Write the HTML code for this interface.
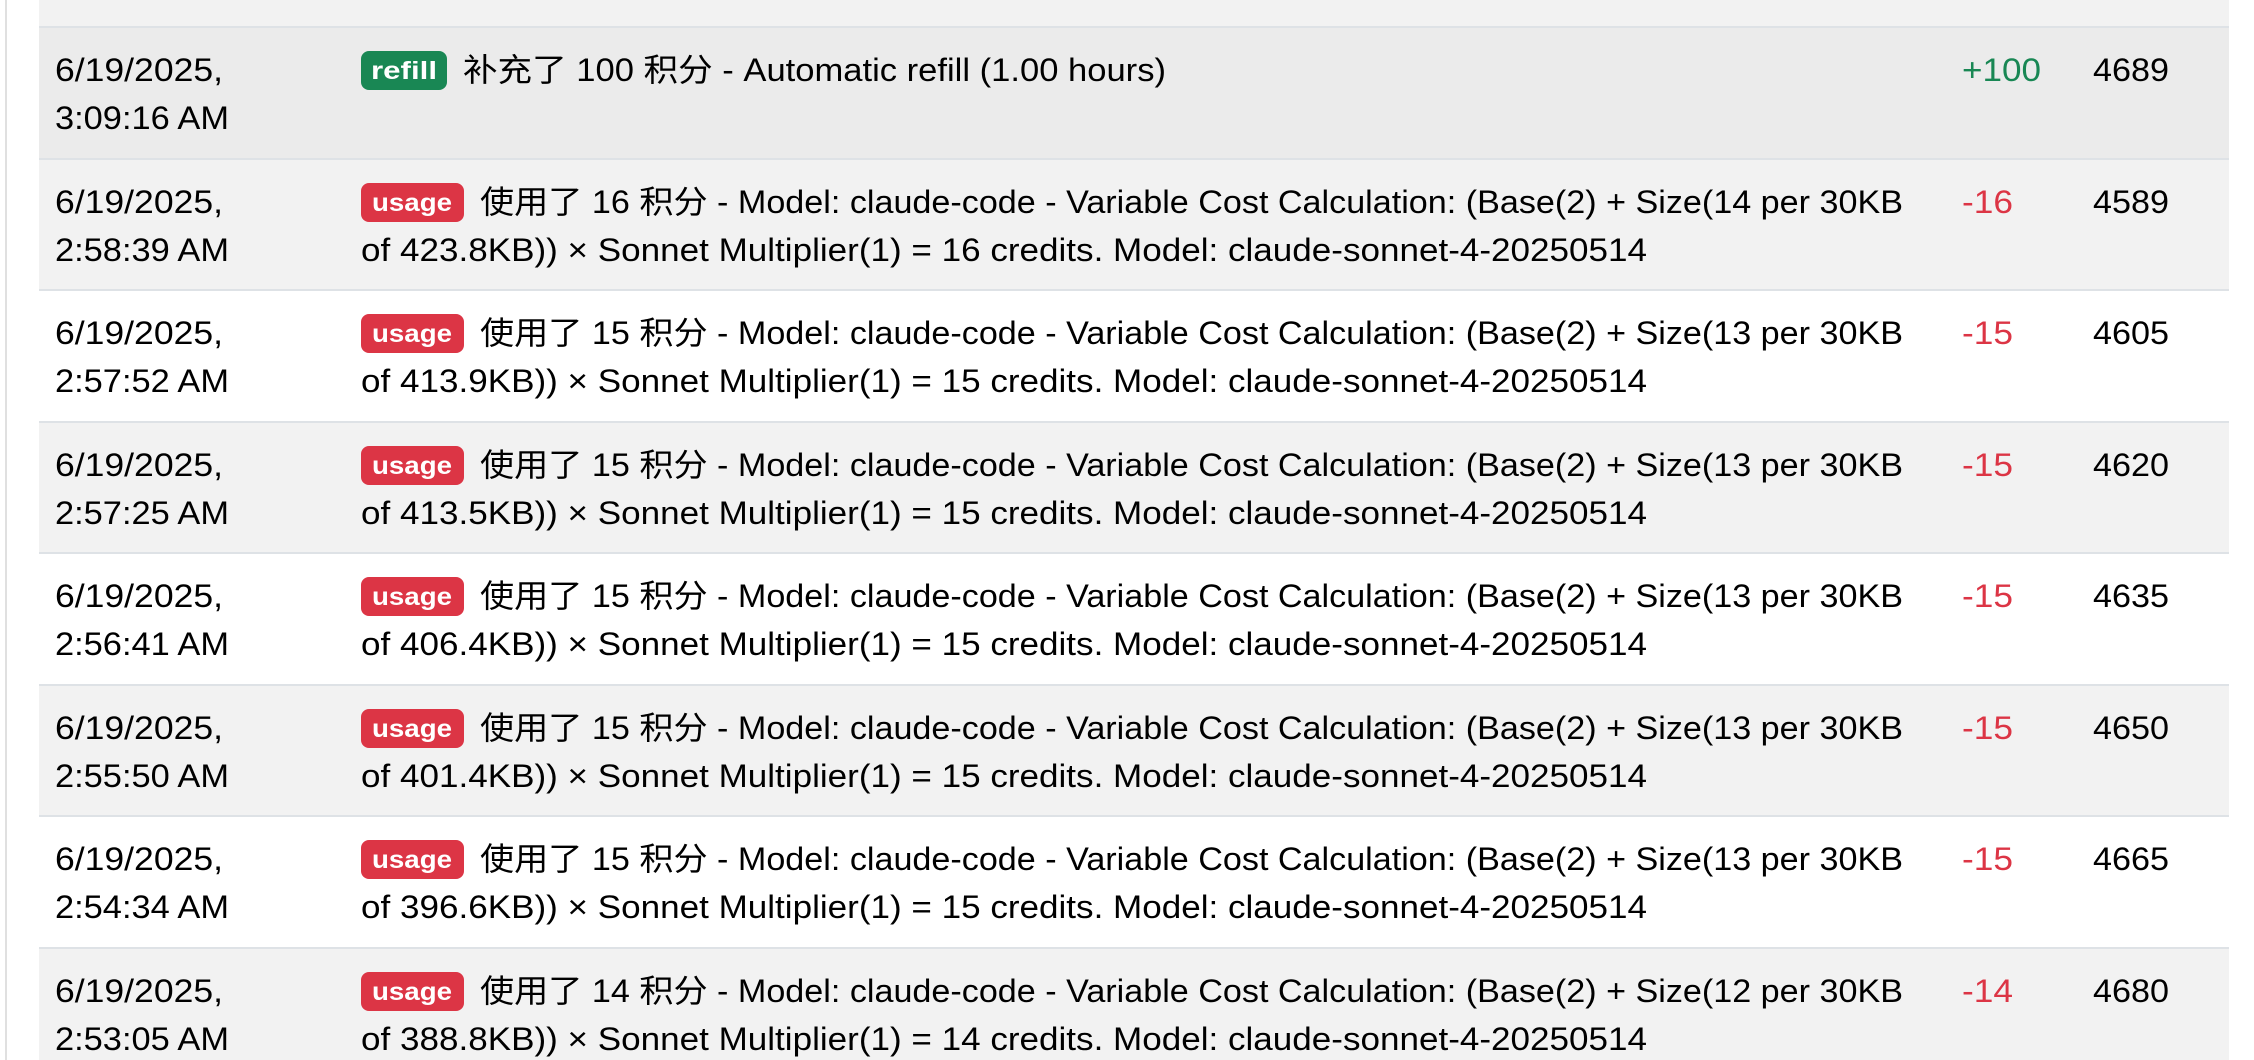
<!DOCTYPE html>
<html><head><meta charset="utf-8">
<style>
html,body{margin:0;padding:0;background:#fff;}
svg{display:block;}
text{font-family:"Liberation Sans","Noto Sans CJK SC",sans-serif;font-size:32px;fill:#000;}
.b{font-weight:bold;font-size:25px;fill:#fff;}
.pos{fill:#198754}.neg{fill:#dc3545}
</style></head><body>
<svg width="2254" height="1060" viewBox="0 0 2254 1060" xmlns="http://www.w3.org/2000/svg">
<defs>
<g id="base">
<rect x="39" y="0" width="2190" height="2" fill="#dee2e6"/>
</g>
</defs>
<rect x="0" y="0" width="2254" height="1060" fill="#fff"/>
<rect x="5" y="0" width="2" height="1060" fill="#e0e0e0"/>
<rect x="39" y="0" width="2190" height="26" fill="#f2f2f2"/>

<g transform="translate(0,26)">
<rect x="39" y="0" width="2190" height="132" fill="#ebebeb"/><use href="#base"/>
<text x="55" y="55" textLength="168" lengthAdjust="spacingAndGlyphs">6/19/2025,</text>
<text x="55" y="103" textLength="174" lengthAdjust="spacingAndGlyphs">3:09:16 AM</text>
<rect x="361" y="25" width="86" height="39" rx="8" fill="#198754"/><text class="b" x="404" y="53" text-anchor="middle" textLength="66" lengthAdjust="spacingAndGlyphs">refill</text>
<text x="463" y="55" textLength="703" lengthAdjust="spacingAndGlyphs">补充了 100 积分 - Automatic refill (1.00 hours)</text>
<text class="pos" x="1962" y="55" textLength="79" lengthAdjust="spacingAndGlyphs">+100</text>
<text x="2093" y="55" textLength="76" lengthAdjust="spacingAndGlyphs">4689</text>
</g>

<g transform="translate(0,158)">
<rect x="39" y="0" width="2190" height="131" fill="#f2f2f2"/><use href="#base"/>
<text x="55" y="55" textLength="168" lengthAdjust="spacingAndGlyphs">6/19/2025,</text>
<text x="55" y="103" textLength="174" lengthAdjust="spacingAndGlyphs">2:58:39 AM</text>
<rect x="361" y="25" width="103" height="39" rx="8" fill="#dc3545"/><text class="b" x="412" y="53" text-anchor="middle" textLength="80" lengthAdjust="spacingAndGlyphs">usage</text>
<text x="480" y="55" textLength="1423" lengthAdjust="spacingAndGlyphs">使用了 16 积分 - Model: claude-code - Variable Cost Calculation: (Base(2) + Size(14 per 30KB</text>
<text x="361" y="103" textLength="1286" lengthAdjust="spacingAndGlyphs">of 423.8KB)) × Sonnet Multiplier(1) = 16 credits. Model: claude-sonnet-4-20250514</text>
<text class="neg" x="1962" y="55" textLength="51" lengthAdjust="spacingAndGlyphs">-16</text>
<text x="2093" y="55" textLength="76" lengthAdjust="spacingAndGlyphs">4589</text>
</g>

<g transform="translate(0,289)">
<rect x="39" y="0" width="2190" height="132" fill="#ffffff"/><use href="#base"/>
<text x="55" y="55" textLength="168" lengthAdjust="spacingAndGlyphs">6/19/2025,</text>
<text x="55" y="103" textLength="174" lengthAdjust="spacingAndGlyphs">2:57:52 AM</text>
<rect x="361" y="25" width="103" height="39" rx="8" fill="#dc3545"/><text class="b" x="412" y="53" text-anchor="middle" textLength="80" lengthAdjust="spacingAndGlyphs">usage</text>
<text x="480" y="55" textLength="1423" lengthAdjust="spacingAndGlyphs">使用了 15 积分 - Model: claude-code - Variable Cost Calculation: (Base(2) + Size(13 per 30KB</text>
<text x="361" y="103" textLength="1286" lengthAdjust="spacingAndGlyphs">of 413.9KB)) × Sonnet Multiplier(1) = 15 credits. Model: claude-sonnet-4-20250514</text>
<text class="neg" x="1962" y="55" textLength="51" lengthAdjust="spacingAndGlyphs">-15</text>
<text x="2093" y="55" textLength="76" lengthAdjust="spacingAndGlyphs">4605</text>
</g>

<g transform="translate(0,421)">
<rect x="39" y="0" width="2190" height="131" fill="#f2f2f2"/><use href="#base"/>
<text x="55" y="55" textLength="168" lengthAdjust="spacingAndGlyphs">6/19/2025,</text>
<text x="55" y="103" textLength="174" lengthAdjust="spacingAndGlyphs">2:57:25 AM</text>
<rect x="361" y="25" width="103" height="39" rx="8" fill="#dc3545"/><text class="b" x="412" y="53" text-anchor="middle" textLength="80" lengthAdjust="spacingAndGlyphs">usage</text>
<text x="480" y="55" textLength="1423" lengthAdjust="spacingAndGlyphs">使用了 15 积分 - Model: claude-code - Variable Cost Calculation: (Base(2) + Size(13 per 30KB</text>
<text x="361" y="103" textLength="1286" lengthAdjust="spacingAndGlyphs">of 413.5KB)) × Sonnet Multiplier(1) = 15 credits. Model: claude-sonnet-4-20250514</text>
<text class="neg" x="1962" y="55" textLength="51" lengthAdjust="spacingAndGlyphs">-15</text>
<text x="2093" y="55" textLength="76" lengthAdjust="spacingAndGlyphs">4620</text>
</g>

<g transform="translate(0,552)">
<rect x="39" y="0" width="2190" height="132" fill="#ffffff"/><use href="#base"/>
<text x="55" y="55" textLength="168" lengthAdjust="spacingAndGlyphs">6/19/2025,</text>
<text x="55" y="103" textLength="174" lengthAdjust="spacingAndGlyphs">2:56:41 AM</text>
<rect x="361" y="25" width="103" height="39" rx="8" fill="#dc3545"/><text class="b" x="412" y="53" text-anchor="middle" textLength="80" lengthAdjust="spacingAndGlyphs">usage</text>
<text x="480" y="55" textLength="1423" lengthAdjust="spacingAndGlyphs">使用了 15 积分 - Model: claude-code - Variable Cost Calculation: (Base(2) + Size(13 per 30KB</text>
<text x="361" y="103" textLength="1286" lengthAdjust="spacingAndGlyphs">of 406.4KB)) × Sonnet Multiplier(1) = 15 credits. Model: claude-sonnet-4-20250514</text>
<text class="neg" x="1962" y="55" textLength="51" lengthAdjust="spacingAndGlyphs">-15</text>
<text x="2093" y="55" textLength="76" lengthAdjust="spacingAndGlyphs">4635</text>
</g>

<g transform="translate(0,684)">
<rect x="39" y="0" width="2190" height="131" fill="#f2f2f2"/><use href="#base"/>
<text x="55" y="55" textLength="168" lengthAdjust="spacingAndGlyphs">6/19/2025,</text>
<text x="55" y="103" textLength="174" lengthAdjust="spacingAndGlyphs">2:55:50 AM</text>
<rect x="361" y="25" width="103" height="39" rx="8" fill="#dc3545"/><text class="b" x="412" y="53" text-anchor="middle" textLength="80" lengthAdjust="spacingAndGlyphs">usage</text>
<text x="480" y="55" textLength="1423" lengthAdjust="spacingAndGlyphs">使用了 15 积分 - Model: claude-code - Variable Cost Calculation: (Base(2) + Size(13 per 30KB</text>
<text x="361" y="103" textLength="1286" lengthAdjust="spacingAndGlyphs">of 401.4KB)) × Sonnet Multiplier(1) = 15 credits. Model: claude-sonnet-4-20250514</text>
<text class="neg" x="1962" y="55" textLength="51" lengthAdjust="spacingAndGlyphs">-15</text>
<text x="2093" y="55" textLength="76" lengthAdjust="spacingAndGlyphs">4650</text>
</g>

<g transform="translate(0,815)">
<rect x="39" y="0" width="2190" height="132" fill="#ffffff"/><use href="#base"/>
<text x="55" y="55" textLength="168" lengthAdjust="spacingAndGlyphs">6/19/2025,</text>
<text x="55" y="103" textLength="174" lengthAdjust="spacingAndGlyphs">2:54:34 AM</text>
<rect x="361" y="25" width="103" height="39" rx="8" fill="#dc3545"/><text class="b" x="412" y="53" text-anchor="middle" textLength="80" lengthAdjust="spacingAndGlyphs">usage</text>
<text x="480" y="55" textLength="1423" lengthAdjust="spacingAndGlyphs">使用了 15 积分 - Model: claude-code - Variable Cost Calculation: (Base(2) + Size(13 per 30KB</text>
<text x="361" y="103" textLength="1286" lengthAdjust="spacingAndGlyphs">of 396.6KB)) × Sonnet Multiplier(1) = 15 credits. Model: claude-sonnet-4-20250514</text>
<text class="neg" x="1962" y="55" textLength="51" lengthAdjust="spacingAndGlyphs">-15</text>
<text x="2093" y="55" textLength="76" lengthAdjust="spacingAndGlyphs">4665</text>
</g>

<g transform="translate(0,947)">
<rect x="39" y="0" width="2190" height="132" fill="#f2f2f2"/><use href="#base"/>
<text x="55" y="55" textLength="168" lengthAdjust="spacingAndGlyphs">6/19/2025,</text>
<text x="55" y="103" textLength="174" lengthAdjust="spacingAndGlyphs">2:53:05 AM</text>
<rect x="361" y="25" width="103" height="39" rx="8" fill="#dc3545"/><text class="b" x="412" y="53" text-anchor="middle" textLength="80" lengthAdjust="spacingAndGlyphs">usage</text>
<text x="480" y="55" textLength="1423" lengthAdjust="spacingAndGlyphs">使用了 14 积分 - Model: claude-code - Variable Cost Calculation: (Base(2) + Size(12 per 30KB</text>
<text x="361" y="103" textLength="1286" lengthAdjust="spacingAndGlyphs">of 388.8KB)) × Sonnet Multiplier(1) = 14 credits. Model: claude-sonnet-4-20250514</text>
<text class="neg" x="1962" y="55" textLength="51" lengthAdjust="spacingAndGlyphs">-14</text>
<text x="2093" y="55" textLength="76" lengthAdjust="spacingAndGlyphs">4680</text>
</g>
</svg>
</body></html>
